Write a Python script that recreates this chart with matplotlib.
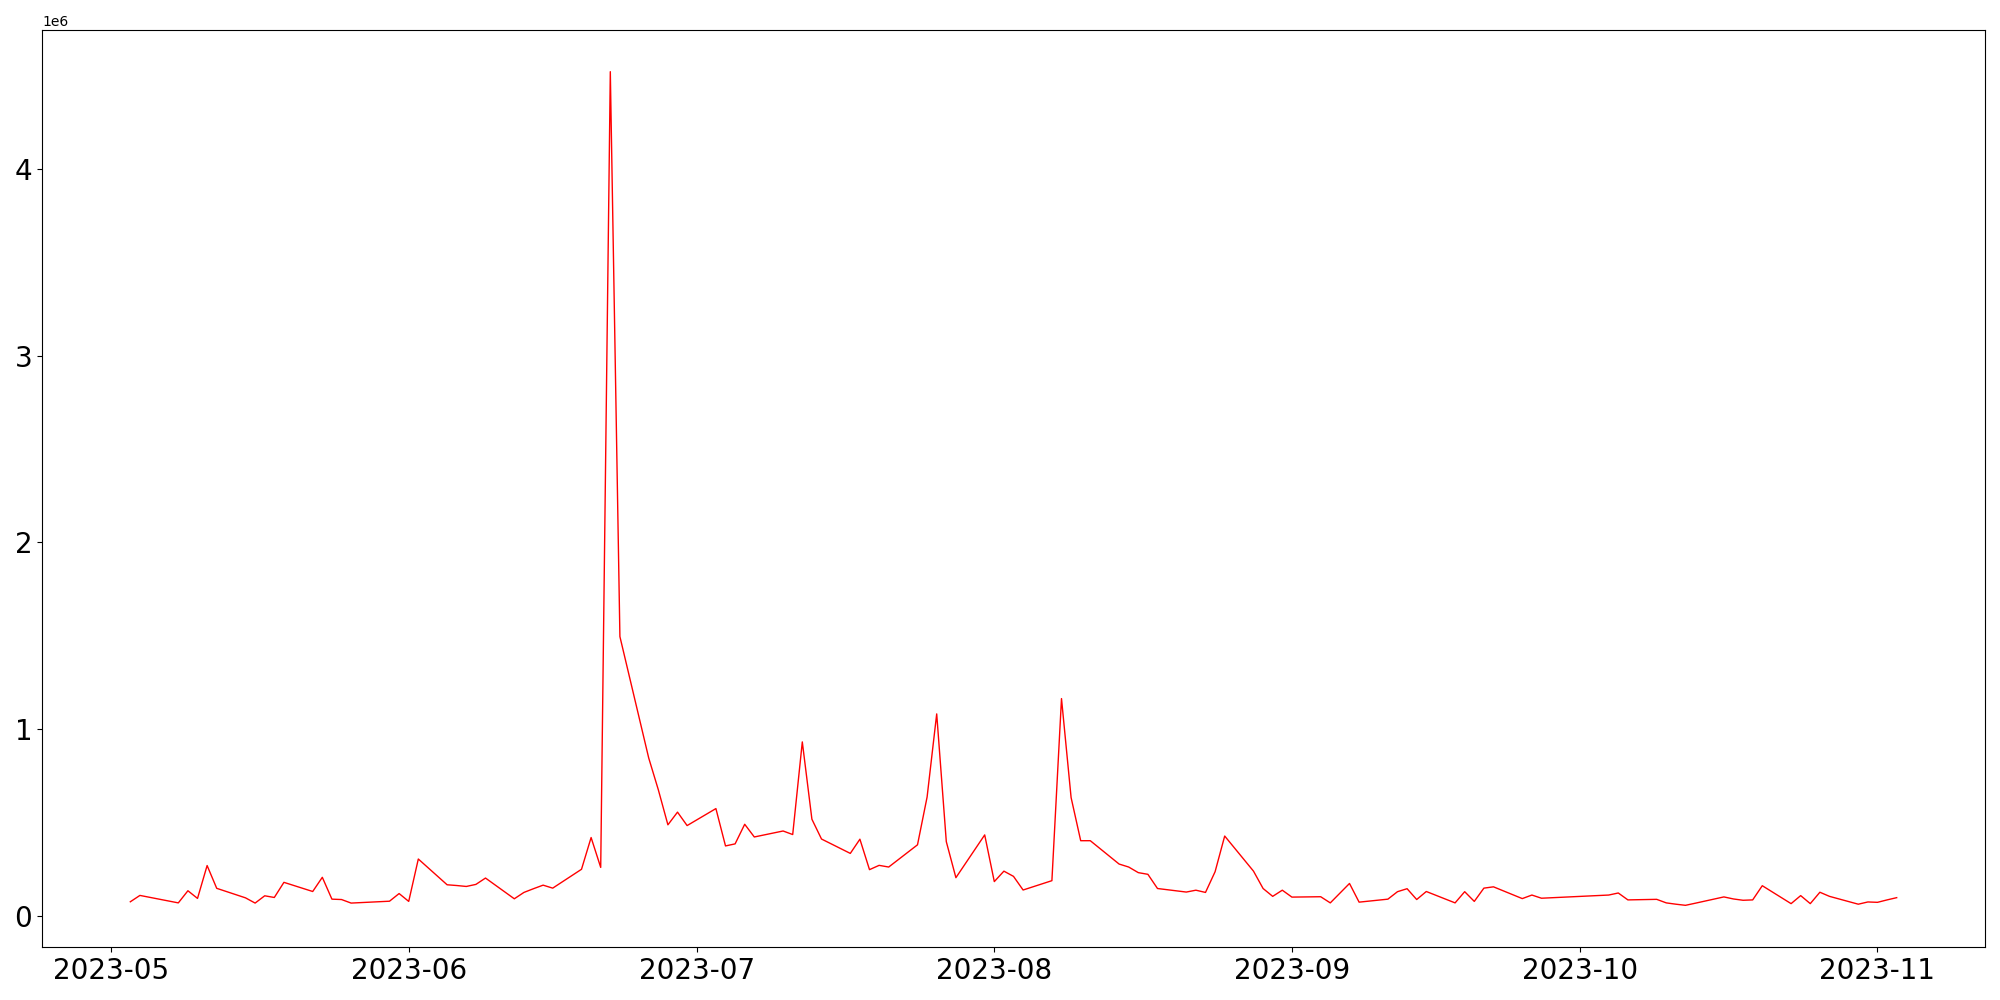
import matplotlib
matplotlib.use('Agg')  # no UI backend
import numpy as np
import pandas as pd
import matplotlib.pyplot as plt

# daily values (in units of 1e6)
may_days = [3, 4, 8, 9, 10, 11, 12, 15, 16, 17, 18, 19, 22, 23, 24, 25, 26, 30, 31]
may_vals = [0.076, 0.110, 0.070, 0.135, 0.094, 0.270, 0.148, 0.097, 0.069, 0.108,
            0.099, 0.180, 0.131, 0.207, 0.090, 0.088, 0.069, 0.079, 0.120]

jun_days = [1, 2, 5, 6, 7, 8, 9, 12, 13, 14, 15, 16, 19, 20, 21, 22, 23, 26, 27, 28, 29, 30]
jun_vals = [0.078, 0.305, 0.167, 0.163, 0.158, 0.169, 0.203, 0.092, 0.126, 0.146, 0.165,
            0.149, 0.250, 0.420, 0.260, 4.521, 1.496, 0.846, 0.676, 0.488, 0.556, 0.484]

jul_days = [3, 4, 5, 6, 7, 10, 11, 12, 13, 14, 17, 18, 19, 20, 21, 24, 25, 26, 27, 28, 31]
jul_vals = [0.575, 0.375, 0.386, 0.491, 0.423, 0.455, 0.436, 0.932, 0.518, 0.412, 0.335,
            0.411, 0.248, 0.271, 0.262, 0.381, 0.637, 1.082, 0.398, 0.205, 0.434]

aug_days = [1, 2, 3, 4, 7, 8, 9, 10, 11, 14, 15, 16, 17, 18, 21, 22, 23, 24, 25, 28, 29, 30, 31]
aug_vals = [0.184, 0.240, 0.212, 0.139, 0.189, 1.164, 0.634, 0.403, 0.403, 0.278, 0.262,
            0.232, 0.223, 0.147, 0.128, 0.138, 0.126, 0.237, 0.428, 0.240, 0.147, 0.105, 0.138]

sep_days = [1, 4, 5, 6, 7, 8, 11, 12, 13, 14, 15, 18, 19, 20, 21, 22, 25, 26, 27]
sep_vals = [0.101, 0.103, 0.070, 0.122, 0.174, 0.074, 0.090, 0.130, 0.146, 0.088,
            0.131, 0.070, 0.130, 0.078, 0.149, 0.156, 0.093, 0.112, 0.095]

oct_days = [4, 5, 6, 9, 10, 11, 12, 13, 16, 17, 18, 19, 20, 23, 24, 25, 26, 27, 30, 31]
oct_vals = [0.112, 0.123, 0.086, 0.089, 0.070, 0.063, 0.057, 0.068, 0.102, 0.091,
            0.084, 0.086, 0.162, 0.066, 0.109, 0.066, 0.127, 0.105, 0.063, 0.075]

nov_days = [1, 2, 3]
nov_vals = [0.073, 0.086, 0.098]

months = [(5, may_days, may_vals), (6, jun_days, jun_vals), (7, jul_days, jul_vals),
          (8, aug_days, aug_vals), (9, sep_days, sep_vals), (10, oct_days, oct_vals),
          (11, nov_days, nov_vals)]

dates = []
values = []
for m, days, vals in months:
    for d, v in zip(days, vals):
        dates.append(pd.Timestamp(2023, m, d))
        values.append(v * 1e6)

fig = plt.figure(figsize=(20, 10), dpi=100)
plt.plot(dates, values, color='red', linewidth=1)
plt.xticks(fontsize=20)
plt.yticks(fontsize=20)
plt.subplots_adjust(left=0.021, right=0.9925, bottom=0.053, top=0.97)
plt.savefig("out.png")  # savefig, don't show
